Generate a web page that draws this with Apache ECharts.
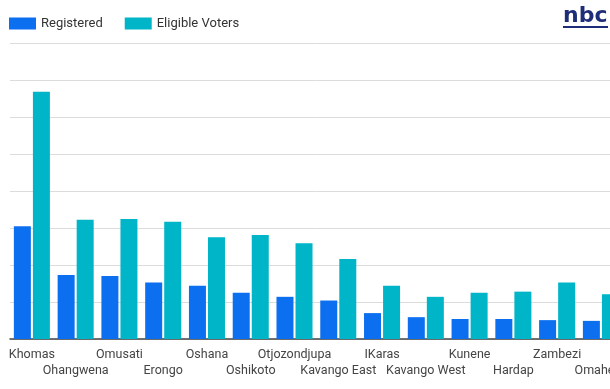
<!DOCTYPE html>
<html><head><meta charset="utf-8">
<script src="https://cdn.jsdelivr.net/npm/echarts@6/dist/echarts.min.js"></script>
<style>html,body{margin:0;padding:0;background:#fff;overflow:hidden;width:610px;height:389px}#c{width:630px;height:389px}</style>
</head><body><div id="c"></div>
<script>
const categories = ['Khomas','Ohangwena','Omusati','Erongo','Oshana','Oshikoto','Otjozondjupa','Kavango East','IKaras','Kavango West','Kunene','Hardap','Zambezi','Omaheke'];
const registered = [3.05,1.73,1.70,1.53,1.44,1.25,1.14,1.04,0.70,0.59,0.54,0.54,0.51,0.49];
const eligible = [6.68,3.22,3.24,3.17,2.75,2.81,2.59,2.16,1.44,1.14,1.25,1.28,1.53,1.21];
const chart = echarts.init(document.getElementById('c'));
chart.setOption({
  animation:false,
  textStyle:{fontFamily:'Roboto'},
  legend:{left:4,top:12,itemWidth:27,itemHeight:12,itemGap:22,icon:'rect',
    textStyle:{fontSize:13,color:'#333',fontFamily:'Roboto'},
    data:['Registered','Eligible Voters']},
  graphic:[
    {type:'text',left:563,top:5,style:{text:'nbc',font:'900 22px "DejaVu Sans"',fill:'#1e2d78'}},
    {type:'rect',shape:{x:563,y:26,width:45,height:2},style:{fill:'#1e2d78'}}
  ],
  grid:{left:10,right:0,top:43,bottom:50,containLabel:false},
  xAxis:{type:'category',data:categories,
    axisLine:{lineStyle:{color:'#444',width:1.5}},axisTick:{show:false},
    axisLabel:{interval:0,color:'#444',fontSize:12.5,lineHeight:16,margin:8,
      formatter:(v,i)=> i%2===1 ? '\n'+v : v}},
  yAxis:{type:'value',min:0,max:8,interval:1,
    axisLabel:{show:false},axisLine:{show:false},axisTick:{show:false},
    splitLine:{lineStyle:{color:'#dcdcdc'}}},
  series:[
    {name:'Registered',type:'bar',data:registered,barWidth:17,barGap:'12%',itemStyle:{color:'#0b6ff0'}},
    {name:'Eligible Voters',type:'bar',data:eligible,barWidth:17,itemStyle:{color:'#00b5c8'}}
  ]
});
</script></body></html>
